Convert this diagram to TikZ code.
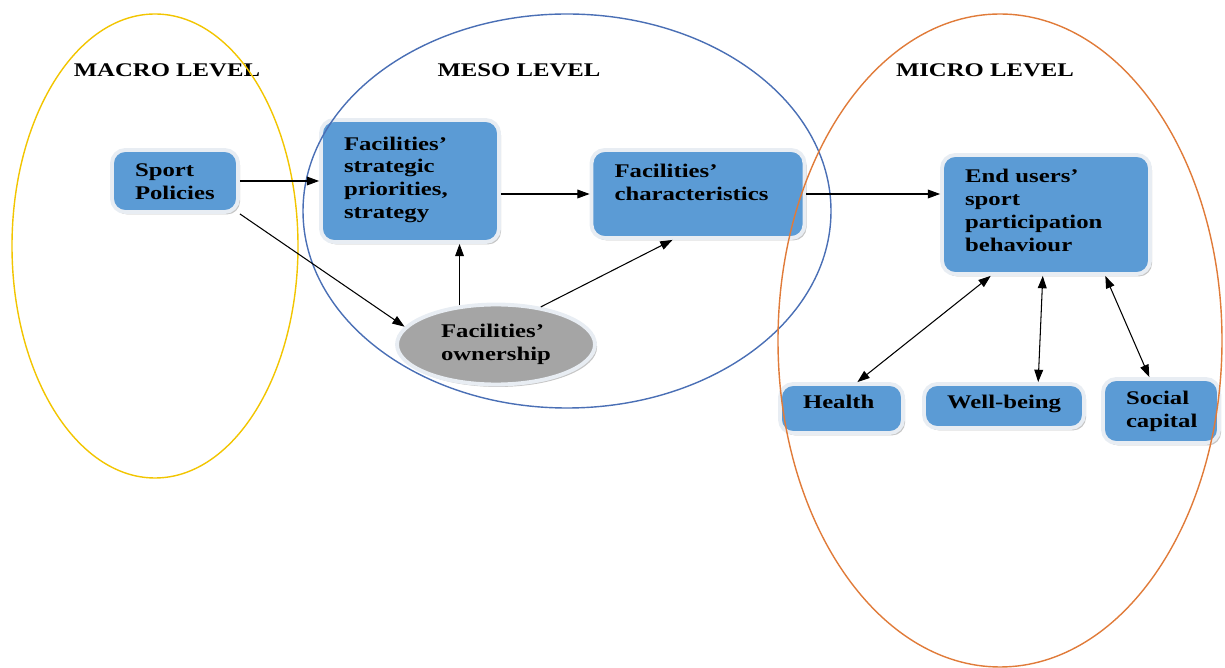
\documentclass[tikz,border=0pt]{standalone}
\usepackage{fontspec}
\setmainfont{Liberation Serif}[FakeStretch=1.28]
\usepackage{xcolor}
\usepackage{tikz}
\usetikzlibrary{shapes.geometric, arrows.meta, shadows}

\definecolor{boxblue}{HTML}{5B9BD5}
\definecolor{boxrim}{HTML}{E8EDF3}
\definecolor{owngrey}{HTML}{A5A5A5}
\definecolor{macrogold}{HTML}{F2C500}
\definecolor{mesoblue}{HTML}{4A6FB5}
\definecolor{microorange}{HTML}{E07B39}

\begin{document}
\begin{tikzpicture}[
    x=0.02cm, y=-0.02cm,
    box/.style={rectangle, draw=boxrim, fill=boxblue, line width=2.2pt, rounded corners=7.5pt,
                drop shadow={shadow xshift=1.2pt, shadow yshift=-1.4pt, fill=black!50, opacity=0.45},
                font=\fontsize{11}{13}\selectfont\bfseries, align=left,
                inner xsep=0.46cm, inner ysep=0pt},
    oval/.style={ellipse, draw=boxrim, fill=owngrey, line width=2.2pt,
                 drop shadow={shadow xshift=1.2pt, shadow yshift=-1.4pt, fill=black!50, opacity=0.45},
                 font=\fontsize{11}{13}\selectfont\bfseries, align=left,
                 minimum width=3.96cm, minimum height=1.6cm, inner sep=0pt},
    lvl/.style={font=\fontsize{11}{13}\selectfont\bfseries},
    ring/.style={line width=0.8pt},
    arr/.style={-{Triangle[length=7pt, width=5pt]}, line width=0.6pt, black},
    darr/.style={{Triangle[length=7pt, width=5pt]}-{Triangle[length=7pt, width=5pt]}, line width=0.6pt, black}
  ]
    \useasboundingbox (0,0) rectangle (1225,668);

    % level titles
    \node[lvl] (lmacro) at (167,70)  {MACRO LEVEL};
    \node[lvl] (lmeso)  at (519,70)  {MESO LEVEL};
    \node[lvl] (lmicro) at (985,70)  {MICRO LEVEL};

    % boxes
    \node[box, text width=1.6cm,  text height=0.54cm, text depth=0.70cm] (sport)  at (175,181)
      {Sport\\Policies};
    \node[box, text width=2.64cm, text height=0.60cm, text depth=1.84cm] (strat)  at (410,181)
      {Facilities'\\strategic\\priorities,\\strategy};
    \node[box, text width=3.34cm, text height=0.56cm, text depth=1.20cm] (char)   at (698,194)
      {Facilities'\\characteristics};
    \node[box, text width=3.24cm, text height=0.56cm, text depth=1.82cm] (users)  at (1046,214.5)
      {End users'\\sport\\participation\\behaviour};
    \node[box, text width=1.54cm, text height=0.50cm, text depth=0.48cm] (health) at (841.5,408.5)
      {Health};
    \node[box, text width=2.28cm, text height=0.50cm, text depth=0.38cm] (well)   at (1004,406)
      {\mbox{Well-being}};
    \node[box, text width=1.40cm, text height=0.52cm, text depth=0.76cm] (social) at (1161,411)
      {Social\\capital};
    \node[oval] (own) at (496,344.5) {Facilities'\\ownership};

    % the three levels
    \draw[ring, macrogold]   (155,246)   ellipse [x radius=143, y radius=232];
    \draw[ring, mesoblue]    (567,211)   ellipse [x radius=264, y radius=197];
    \draw[ring, microorange] (1000,340.5) ellipse [x radius=222, y radius=326.5];

    % links
    \draw[arr] (sport.east) -- (strat.west |- sport.east);
    \draw[arr] (sport.south east) -- (own.169);
    \draw[arr] (strat.east |- char.west) -- (char.west);
    \draw[arr] (char.east) -- (users.west |- char.east);
    \draw[arr] (own.133) -- (own.133 |- strat.south);
    \draw[arr] (own.40) -- (char.241);
    \draw[darr] (users.228) -- (health.59);
    \draw[darr] (users.267) -- (well.35);
    \draw[darr] (users.314) -- (social.109);
  \end{tikzpicture}
\end{document}
